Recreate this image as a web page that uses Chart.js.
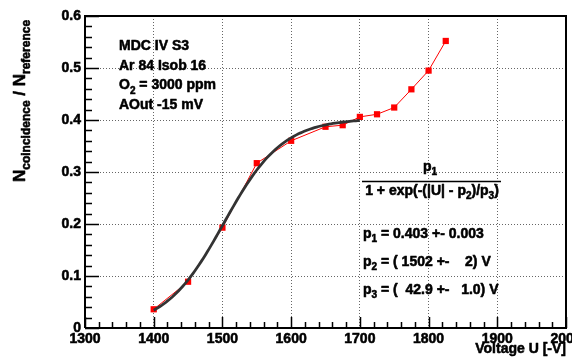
<!DOCTYPE html>
<html>
<head>
<meta charset="utf-8">
<script src="https://cdn.jsdelivr.net/npm/chart.js@4/dist/chart.umd.min.js"></script>
<style>
  html, body { margin: 0; padding: 0; background: #fff; }
  canvas { display: block; }
</style>
</head>
<body>
<canvas id="c" width="572" height="360"></canvas>
<script>
// Measured efficiency ratio vs. chamber voltage
const voltages = [1400, 1450, 1500, 1550, 1600, 1650, 1675, 1700, 1725, 1750, 1775, 1800, 1825];
const ratios   = [0.036, 0.089, 0.193, 0.317, 0.360, 0.387, 0.390, 0.406, 0.411, 0.424, 0.459, 0.495, 0.552];

// Fermi-type fit parameters and the range the fit covers
const fitP1 = 0.403, fitP2 = 1502, fitP3 = 42.9;
const fitRange = [1400, 1700];

// Axis ranges and tick steps
const xRange = [1300, 2000], xMajor = 100, xMinor = 20;
const yRange = [0, 0.6],     yMajor = 0.1, yMinor = 0.02;

// Text annotations
const infoLines = [
  [['MDC IV S3']],
  [['Ar 84 Isob 16']],
  [['O'], ['2', 's'], [' = 3000 ppm']],
  [['AOut -15 mV']]
];
const paramLines = [
  [['p'], ['1', 's'], [' = 0.403 +- 0.003']],
  [['p'], ['2', 's'], [' = ( 1502 +-    2) V']],
  [['p'], ['3', 's'], [' = (  42.9 +-   1.0) V']]
];

const FAMILY = '"Liberation Sans", Arial, Helvetica, sans-serif';
const HEAVY = 0.55;   // extra stroke to give the bold face more weight

const dataPts = voltages.map((v, i) => ({ x: v, y: ratios[i] }));
const fitPts = [];
for (let u = fitRange[0]; u <= fitRange[1]; u += 3) {
  fitPts.push({ x: u, y: fitP1 / (1 + Math.exp(-(Math.abs(u) - fitP2) / fitP3)) });
}

// draw a run of text pieces, some of them subscripts
function rich(ctx, x, y, parts, size, align) {
  const subSize = Math.round(size * 0.7);
  const fontFor = k => 'bold ' + (k === 's' ? subSize : size) + 'px ' + FAMILY;
  let total = 0;
  parts.forEach(p => { ctx.font = fontFor(p[1]); total += ctx.measureText(p[0]).width; });
  let cx = x;
  if (align === 'center') cx = x - total / 2;
  else if (align === 'right') cx = x - total;
  ctx.textAlign = 'left';
  ctx.textBaseline = 'alphabetic';
  ctx.lineWidth = HEAVY;
  ctx.lineJoin = 'round';
  parts.forEach(p => {
    ctx.font = fontFor(p[1]);
    const ty = y + (p[1] === 's' ? size * 0.3 : 0);
    ctx.fillText(p[0], cx, ty);
    ctx.strokeText(p[0], cx, ty);
    cx += ctx.measureText(p[0]).width;
  });
  return total;
}

const decorations = {
  id: 'decorations',
  afterDraw(chart) {
    const { ctx, chartArea: a, scales: { x, y } } = chart;
    ctx.save();
    ctx.fillStyle = '#000';
    ctx.strokeStyle = '#000';

    // frame
    ctx.lineWidth = 2;
    ctx.beginPath();
    ctx.moveTo(a.left, a.bottom); ctx.lineTo(a.left, a.top);
    ctx.lineTo(a.right, a.top); ctx.lineTo(a.right, a.bottom);
    ctx.lineTo(a.left, a.bottom);
    ctx.stroke();

    // inward ticks
    ctx.lineWidth = 1.5;
    ctx.beginPath();
    for (let v = xRange[0]; v <= xRange[1] + 1e-9; v += xMinor) {
      const px = Math.round(x.getPixelForValue(v)) + 0.5;
      const major = Math.abs((v - xRange[0]) % xMajor) < 1e-6;
      ctx.moveTo(px, a.bottom); ctx.lineTo(px, a.bottom - (major ? 11 : 6));
    }
    for (let k = 0; k <= Math.round((yRange[1] - yRange[0]) / yMinor); k++) {
      const v = yRange[0] + k * yMinor;
      const py = Math.round(y.getPixelForValue(v)) + 0.5;
      const major = k % 5 === 0;
      ctx.moveTo(a.left, py); ctx.lineTo(a.left + (major ? 14 : 7), py);
    }
    ctx.stroke();

    // info block
    infoLines.forEach((line, i) => rich(ctx, 119, 50 + i * 19.7, line, 14, 'left'));

    // fit formula
    rich(ctx, 430, 171, [['p'], ['1', 's']], 14, 'center');
    ctx.lineWidth = 1.5;
    ctx.beginPath();
    ctx.moveTo(362, 181.5); ctx.lineTo(501, 181.5);
    ctx.stroke();
    rich(ctx, 432, 195, [['1 + exp(-(|U| - p'], ['2', 's'], [')/p'], ['3', 's'], [')']], 14, 'center');

    // fit parameters
    const pBase = [238, 266, 294];
    paramLines.forEach((line, i) => rich(ctx, 363, pBase[i], line, 14, 'left'));

    // axis titles
    rich(ctx, 566, 353, [['Voltage U [-V]']], 14, 'right');
    ctx.save();
    ctx.translate(25, 101);
    ctx.rotate(-Math.PI / 2);
    rich(ctx, 0, 0, [['N'], ['coincidence', 's'], [' / N'], ['reference', 's']], 17, 'center');
    ctx.restore();

    ctx.restore();
  }
};

const tickFont = { family: FAMILY, size: 14, weight: 'bold' };

new Chart(document.getElementById('c'), {
  type: 'scatter',
  data: {
    datasets: [
      {
        label: 'fit',
        data: fitPts,
        showLine: true,
        borderColor: '#333333',
        borderWidth: 2.8,
        pointRadius: 0,
        tension: 0,
        order: 0
      },
      {
        label: 'data',
        data: dataPts,
        showLine: true,
        borderColor: '#ff0000',
        borderWidth: 1,
        backgroundColor: '#ff0000',
        pointBackgroundColor: '#ff0000',
        pointBorderColor: '#ff0000',
        pointStyle: 'rect',
        pointRadius: 4.4,
        pointBorderWidth: 0,
        tension: 0,
        order: 1
      }
    ]
  },
  options: {
    responsive: false,
    animation: false,
    devicePixelRatio: 1,
    layout: { padding: { top: 16, right: 6, left: 0, bottom: 0 } },
    plugins: { legend: { display: false }, tooltip: { enabled: false } },
    scales: {
      x: {
        type: 'linear',
        min: xRange[0], max: xRange[1],
        afterFit(s) { s.height = 32; s.paddingLeft = 0; s.paddingRight = 0; },
        ticks: {
          stepSize: xMajor, maxRotation: 0, autoSkip: false, padding: 3,
          color: '#000', textStrokeColor: '#000', textStrokeWidth: HEAVY,
          font: tickFont,
          callback: v => String(v)
        },
        grid: { color: 'rgba(0,0,0,0.6)', lineWidth: 1, drawTicks: false },
        border: { display: false, dash: [1, 2] }
      },
      y: {
        type: 'linear',
        min: yRange[0], max: yRange[1],
        afterFit(s) { s.width = 85; s.paddingTop = 0; s.paddingBottom = 0; },
        ticks: {
          stepSize: yMajor, padding: 4,
          color: '#000', textStrokeColor: '#000', textStrokeWidth: HEAVY,
          font: tickFont,
          callback: v => (Math.abs(v) < 1e-9 ? '0' : v.toFixed(1))
        },
        grid: { color: 'rgba(0,0,0,0.6)', lineWidth: 1, drawTicks: false },
        border: { display: false, dash: [1, 2] }
      }
    }
  },
  plugins: [decorations]
});
</script>
</body>
</html>
